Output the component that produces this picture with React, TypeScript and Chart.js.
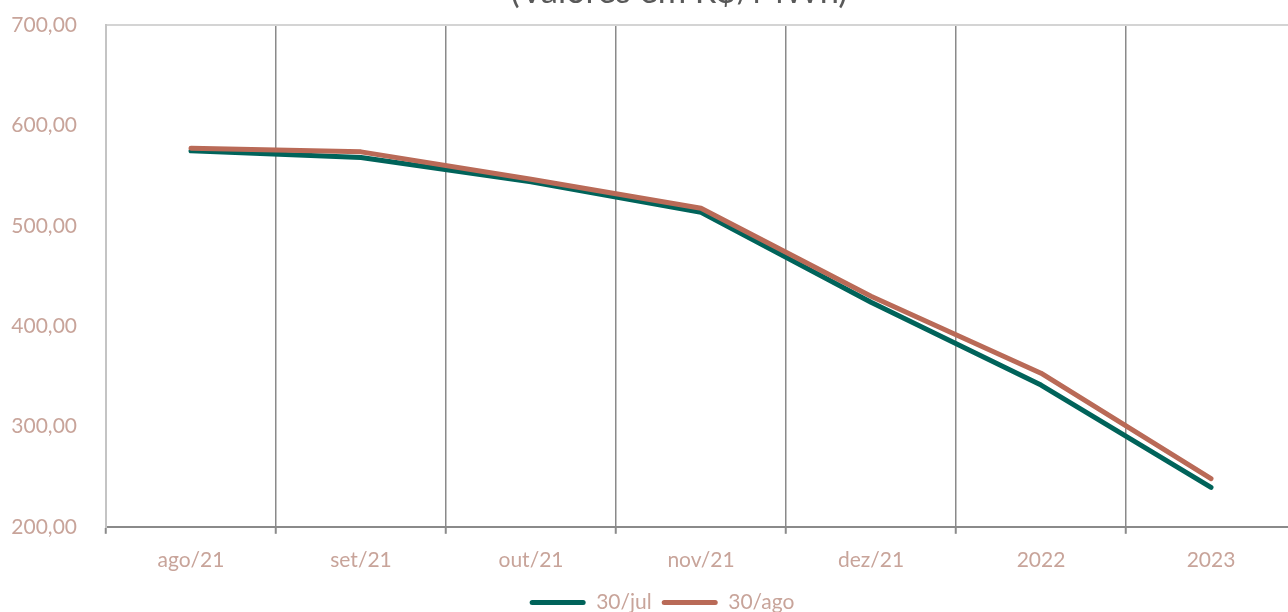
import React, { useEffect, useRef } from "react";
import { Chart, registerables } from "chart.js";

Chart.register(...registerables);

const categories = ["ago/21", "set/21", "out/21", "nov/21", "dez/21", "2022", "2023"];
const julValues = [574.9, 568.3, 544.1, 513.7, 424.0, 341.3, 239.3];
const agoValues = [577.6, 573.9, 546.5, 517.7, 430.0, 353.2, 248.0];
const seriesNames = ["30/jul", "30/ago"];
const titleText = "(Valores em R$/MWh)";
const yMin = 200;
const yMax = 700;
const yStep = 100;

const GREEN = "#00635a";
const ORANGE = "#b96a57";
const LABEL = "#c8a49a";
const FONT = "Lato";

const CW = 1358;
const CH = 652;
const TOP = -29;
const RIGHT_SPACE = 62;
const LEGEND_SHIFT = -17;

const legendShift = {
  id: "legendShift",
  afterLayout(chart: any) {
    const lg = chart.legend;
    if (lg) {
      lg.left += LEGEND_SHIFT;
      lg.right += LEGEND_SHIFT;
    }
  },
};

export default function App() {
  const ref = useRef<HTMLCanvasElement | null>(null);

  useEffect(() => {
    if (!ref.current) return;
    const chart = new Chart(ref.current, {
      type: "line",
      plugins: [legendShift],
      data: {
        labels: categories,
        datasets: [
          {
            label: seriesNames[0],
            data: julValues,
            borderColor: GREEN,
            backgroundColor: GREEN,
            borderWidth: 5,
            pointRadius: 0,
            tension: 0,
            borderCapStyle: "round",
            borderJoinStyle: "round",
            order: 1,
          },
          {
            label: seriesNames[1],
            data: agoValues,
            borderColor: ORANGE,
            backgroundColor: ORANGE,
            borderWidth: 5,
            pointRadius: 0,
            tension: 0,
            borderCapStyle: "round",
            borderJoinStyle: "round",
            order: 0,
          },
        ],
      },
      options: {
        responsive: false,
        animation: false,
        devicePixelRatio: 1,
        layout: { padding: { left: 0, right: 0, top: 0, bottom: 0 } },
        plugins: {
          tooltip: { enabled: false },
          title: {
            display: true,
            text: titleText,
            color: "#595959",
            font: { family: FONT, size: 34.5, weight: "normal" },
            padding: { top: 0, bottom: 13 },
          },
          legend: {
            position: "bottom",
            labels: {
              color: LABEL,
              font: { family: FONT, size: 21 },
              boxWidth: 56,
              boxHeight: 5,
              useBorderRadius: true,
              borderRadius: 2.5,
              padding: 10,
              sort: (a: any, b: any) => a.datasetIndex - b.datasetIndex,
              generateLabels: (c: any) =>
                c.data.datasets.map((ds: any, i: number) => ({
                  text: ds.label,
                  fillStyle: ds.borderColor,
                  strokeStyle: ds.borderColor,
                  lineWidth: 0,
                  fontColor: LABEL,
                  datasetIndex: i,
                  hidden: false,
                  borderRadius: 2.5,
                })),
            },
          },
        },
        scales: {
          x: {
            offset: true,
            grid: {
              offset: true,
              display: true,
              drawOnChartArea: true,
              drawTicks: true,
              tickLength: 7,
              color: (ctx: any) => (ctx.index === 0 ? "rgba(0,0,0,0)" : "#8a8a8a"),
              tickColor: "#8a8a8a",
              lineWidth: 1.5,
              tickWidth: 2,
            },
            border: { display: true, color: "#8a8a8a", width: 2 },
            ticks: {
              color: LABEL,
              font: { family: FONT, size: 21 },
              padding: 14,
              maxRotation: 0,
            },
            afterFit: (s: any) => {
              s.height -= 5;
            },
          },
          y: {
            min: yMin,
            max: yMax,
            grid: {
              drawTicks: false,
              color: (ctx: any) =>
                ctx.tick && ctx.tick.value === yMax ? "#d4d4d4" : "rgba(0,0,0,0)",
              lineWidth: 2,
            },
            border: { display: true, color: "#c4c4c4", width: 2 },
            ticks: {
              stepSize: yStep,
              color: LABEL,
              font: { family: FONT, size: 21 },
              padding: 29,
              callback: (v: any) => Number(v).toFixed(2).replace(".", ","),
            },
            afterFit: (s: any) => {
              s.width = 106;
            },
          },
          yRight: {
            type: "linear",
            position: "right",
            display: true,
            min: yMin,
            max: yMax,
            grid: { display: false, drawOnChartArea: false, drawTicks: false },
            border: { display: false },
            ticks: { display: false },
            afterFit: (s: any) => {
              s.width = RIGHT_SPACE;
            },
          },
        },
      },
    });
    return () => chart.destroy();
  }, []);

  return (
    <div
      style={{
        position: "fixed",
        left: 0,
        top: 0,
        width: 1288,
        height: 612,
        overflow: "hidden",
        background: "#ffffff",
      }}
    >
      <div style={{ position: "absolute", left: 0, top: TOP, width: CW, height: CH }}>
        <canvas ref={ref} width={CW} height={CH} style={{ width: CW, height: CH, display: "block" }} />
      </div>
    </div>
  );
}
